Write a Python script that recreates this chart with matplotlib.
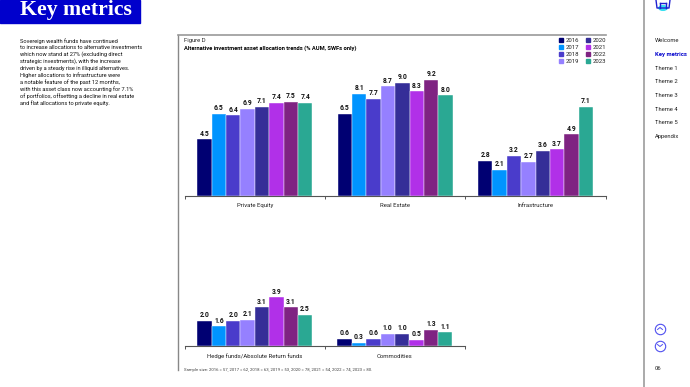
# key metrics page, figure D

import matplotlib
matplotlib.use('Agg')
import matplotlib.pyplot as plt
from matplotlib.lines import Line2D
from matplotlib.patches import Circle, Rectangle

W, H = 690, 387

years = ['2016', '2017', '2018', '2019', '2020', '2021', '2022', '2023']
colors = ['#000072', '#0094FF', '#4A3CCB', '#9580FF',
          '#352E98', '#B130E8', '#7F2382', '#2AA893']

top_categories = ['Private Equity', 'Real Estate', 'Infrastructure']
private_equity = [4.5, 6.5, 6.4, 6.9, 7.1, 7.4, 7.5, 7.4]
real_estate = [6.5, 8.1, 7.7, 8.7, 9.0, 8.3, 9.2, 8.0]
infrastructure = [2.8, 2.1, 3.2, 2.7, 3.6, 3.7, 4.9, 7.1]

bottom_categories = ['Hedge funds/Absolute Return funds', 'Commodities']
hedge_funds = [2.0, 1.6, 2.0, 2.1, 3.1, 3.9, 3.1, 2.5]
commodities = [0.6, 0.3, 0.6, 1.0, 1.0, 0.5, 1.3, 1.1]

body_lines = [
    'Sovereign wealth funds have continued',
    'to increase allocations to alternative investments',
    'which now stand at 27% (excluding direct',
    'strategic investments), with the increase',
    'driven by a steady rise in illiquid alternatives.',
    'Higher allocations to infrastructure were',
    'a notable feature of the past 12 months,',
    'with this asset class now accounting for 7.1%',
    'of portfolios, offsetting a decline in real estate',
    'and flat allocations to private equity.',
]
nav_items = ['Welcome', 'Key metrics', 'Theme 1', 'Theme 2',
             'Theme 3', 'Theme 4', 'Theme 5', 'Appendix']
sample_note = ('Sample size: 2016 = 57, 2017 = 62, 2018 = 63, 2019 = 53, '
               '2020 = 78, 2021 = 54, 2022 = 74, 2023 = 80.')

plt.rcParams['font.family'] = ['Roboto', 'DejaVu Sans']

fig = plt.figure(figsize=(W / 100, H / 100), dpi=100)


def fx(x):
    return x / W


def fy(y):
    return 1 - y / H


def panel(left, right, top, base, categories, series):
    """Axes placed in pixels, same value scale on both panels."""
    ax = fig.add_axes([fx(left), fy(base), fx(right - left), (base - top) / H])
    n = len(categories)
    ax.set_xlim(-0.5, n - 0.5)
    ax.set_ylim(0, (base - top) / 12.6)
    ax.patch.set_alpha(0)
    width = 0.1025
    for c, values in enumerate(series):
        for i, v in enumerate(values):
            x = c + (i - 3.5) * width
            ax.bar(x, v, width, color=colors[i], edgecolor='white', linewidth=0.3)
            ax.text(x, v + 0.13, f'{v:.1f}', ha='center', va='bottom',
                    fontsize=4.9, fontweight='bold', color='#111111')
    for s in ['top', 'left', 'right']:
        ax.spines[s].set_visible(False)
    ax.spines['bottom'].set_color('#555555')
    ax.spines['bottom'].set_linewidth(0.8)
    ax.set_yticks([])
    ax.set_xticks([c - 0.5 for c in range(n + 1)])
    ax.set_xticklabels([])
    ax.tick_params(axis='x', length=2.5, width=0.7, color='#555555')
    for c, name in enumerate(categories):
        ax.text(c, -0.78, name, ha='center', va='center',
                fontsize=4.3, color='#222222')
    return ax


panel(184.7, 605.7, 46, 196, top_categories,
      [private_equity, real_estate, infrastructure])
panel(184.7, 465, 285, 346.3, bottom_categories, [hedge_funds, commodities])

# page furniture
fig.add_artist(Rectangle((0, fy(23)), fx(140), 23 / H, color='#0000CC',
                         transform=fig.transFigure))
fig.text(fx(20), fy(10.5), 'Key metrics', fontsize=15.7, fontweight='bold',
         family='Liberation Serif', color='white', va='center')

for i, line in enumerate(body_lines):
    fig.text(fx(20), fy(40.7 + i * 6.9), line, fontsize=4.1,
             color='#111111', va='center')

rules = [([178.3, 178.3], [35, 370], '#888888', 1.0),
         ([178, 606], [35, 35], '#999999', 1.2),
         ([643.7, 643.7], [0, 387], '#AAAAAA', 1.4)]
for xs, ys, col, lw in rules:
    fig.add_artist(Line2D([fx(x) for x in xs], [fy(y) for y in ys],
                          color=col, linewidth=lw))

fig.text(fx(184), fy(40.7), 'Figure D', fontsize=4.2, color='#222222', va='center')
fig.text(fx(184), fy(48.3), 'Alternative investment asset allocation trends (% AUM, SWFs only)',
         fontsize=4.15, fontweight='bold', color='#000000', va='center')
fig.text(fx(184), fy(369.5), sample_note, fontsize=3.05, color='#444444', va='center')

# legend in two columns
handles = [Rectangle((0, 0), 1, 1, color=c) for c in colors]
fig.legend(handles, years, ncols=2, loc='upper right',
           bbox_to_anchor=(fx(606), fy(37.5)), frameon=False, fontsize=4.3,
           handlelength=0.7, handleheight=0.7, handletextpad=0.35,
           columnspacing=1.2, labelspacing=0.32, borderpad=0, borderaxespad=0,
           labelcolor='#222222')

for i, item in enumerate(nav_items):
    active = item == 'Key metrics'
    fig.text(fx(655), fy(40.7 + i * 13.7), item, fontsize=4.2, va='center',
             color='#0000CC' if active else '#222222',
             fontweight='bold' if active else 'normal')

# home icon, cut by the page top
fig.add_artist(Circle((fx(663), fy(8)), 0.006, color='#35E0F0',
                      transform=fig.transFigure))
icon = [([656, 657, 669, 670], [0, 8, 8, 0]), ([660, 660], [8, 3]),
        ([666, 666], [8, 3]), ([660, 666], [3, 3])]
for xs, ys in icon:
    fig.add_artist(Line2D([fx(x) for x in xs], [fy(y) for y in ys],
                          color='#2020D0', linewidth=1.0))

# up and down buttons
for cy, wing in [(328.5, 1.5), (345.5, -1.5)]:
    fig.add_artist(Line2D([fx(660)], [fy(cy)], marker='o', markersize=7.5,
                          markerfacecolor='none', markeredgecolor='#5050F0',
                          markeredgewidth=0.8))
    fig.add_artist(Line2D([fx(657.5), fx(660), fx(662.5)],
                          [fy(cy + wing / 1.5), fy(cy - wing / 1.5), fy(cy + wing / 1.5)],
                          color='#5050F0', linewidth=0.7))
fig.text(fx(655), fy(369), '06', fontsize=4.2, color='#222222', va='center')

fig.savefig('out.png', dpi=100)
